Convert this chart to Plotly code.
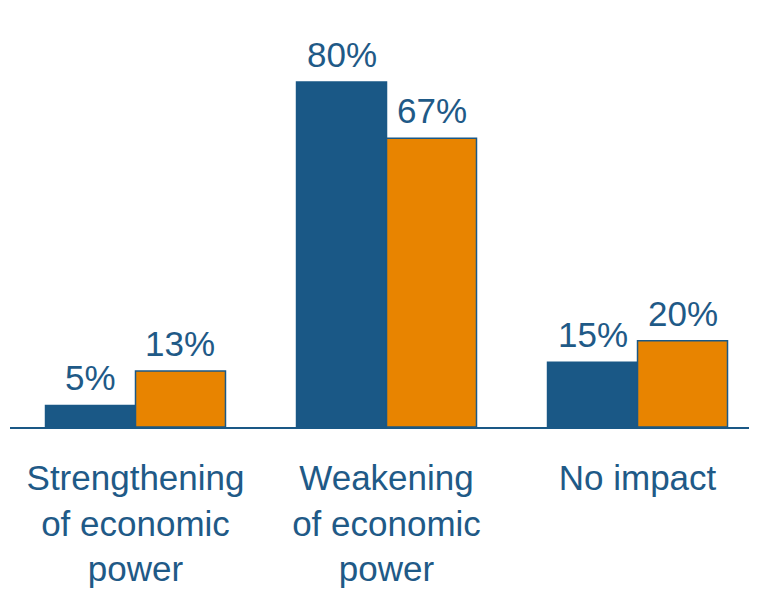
import plotly.graph_objects as go

categories = ["Strengthening<br>of economic<br>power", "Weakening<br>of economic<br>power", "No impact"]
series_a = [5, 80, 15]
series_b = [13, 67, 20]
labels_a = ["5%", "80%", "15%"]
labels_b = ["13%", "67%", "20%"]

BLUE = "#1a5886"
ORANGE = "#e88400"
TEXT = "#1f5a87"
FONT = "Liberation Sans, Arial, sans-serif"

W, H = 749, 582
ML, MR = 2, 0
X_RANGE = [-0.5, 2.476]
BARGAP = 0.283

fig = go.Figure()
fig.add_bar(x=categories, y=series_a,
            marker=dict(color=BLUE, line=dict(color=BLUE, width=1.5)))
fig.add_bar(x=categories, y=series_b,
            marker=dict(color=ORANGE, line=dict(color=BLUE, width=1.5)))

# value labels above bars, offset by half a bar width
px_per_unit = (W - ML - MR) / (X_RANGE[1] - X_RANGE[0])
bar_px = (1 - BARGAP) / 2 * px_per_unit
for vals, labs, sign in ((series_a, labels_a, -1), (series_b, labels_b, 1)):
    for c, v, t in zip(categories, vals, labs):
        fig.add_annotation(x=c, y=v, text=t, showarrow=False, yanchor="bottom",
                           xshift=sign * bar_px / 2, yshift=6,
                           font=dict(size=35, color=TEXT, family=FONT))

fig.update_layout(
    width=W, height=H,
    margin=dict(l=ML, r=MR, t=31, b=163, autoexpand=False),
    barmode="group", bargap=BARGAP, bargroupgap=0,
    showlegend=False,
    plot_bgcolor="white", paper_bgcolor="white",
    font=dict(family=FONT, color=TEXT, size=35),
    xaxis=dict(range=X_RANGE, showline=True, linecolor=BLUE, linewidth=2,
               ticks="", tickfont=dict(size=35, color=TEXT, family=FONT),
               showgrid=False, zeroline=False, ticklabelstandoff=19,
               automargin=False),
    yaxis=dict(range=[0, 90], visible=False, showgrid=False, zeroline=False,
               automargin=False),
)

fig.write_html("out.html")
